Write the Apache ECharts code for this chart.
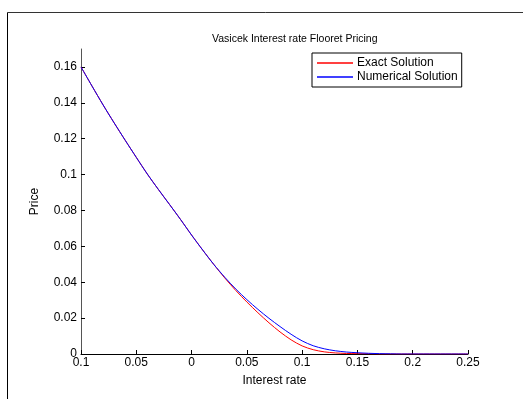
<!DOCTYPE html>
<html><head><meta charset="utf-8">
<script src="https://cdn.jsdelivr.net/npm/echarts@6/dist/echarts.min.js"></script>
<style>html,body{margin:0;padding:0;background:#fff}#c{width:523px;height:399px}</style>
</head><body><div id="c"></div>
<script>
const rates = [-0.10,-0.09,-0.08,-0.07,-0.06,-0.05,-0.04,-0.03,-0.02,-0.01,0.00,0.01,0.02,0.03,0.04,0.05,0.06,0.07,0.08,0.09,0.10,0.11,0.12,0.13,0.14,0.15,0.16,0.17,0.18,0.19,0.20,0.21,0.22,0.23,0.24,0.25];
const exactPrice = [0.1600,0.1493,0.1388,0.1288,0.1191,0.1096,0.1003,0.0917,0.0834,0.0750,0.0663,0.0580,0.0500,0.0424,0.0354,0.0290,0.0230,0.0174,0.0123,0.0079,0.0045,0.0024,0.0012,0.0006,0.0003,0.0002,0.0001,0,0,0,0,0,0,0,0,0];
const numericalPrice = [0.1600,0.1493,0.1388,0.1288,0.1191,0.1096,0.1003,0.0917,0.0834,0.0750,0.0663,0.0580,0.0500,0.0428,0.0362,0.0303,0.0249,0.0199,0.0153,0.0110,0.0073,0.0046,0.0029,0.0018,0.0011,0.0007,0.0004,0.0002,0.0001,0,0,0,0,0,0,0];
const xTicks = [-0.1,-0.05,0,0.05,0.1,0.15,0.2,0.25];
const yTicks = [0,0.02,0.04,0.06,0.08,0.1,0.12,0.14,0.16];
const seriesNames = ['Exact Solution','Numerical Solution'];
const titleText = 'Vasicek Interest rate Flooret Pricing';
const xName = 'Interest rate';
const yName = 'Price';

const font = 'Liberation Sans, Arial, sans-serif';
const chart = echarts.init(document.getElementById('c'));
chart.setOption({
  animation: false,
  backgroundColor: '#fff',
  title: {text: titleText, left: 207, top: 29,
    textStyle: {fontFamily: font, fontSize: 10.5, fontWeight: 'normal', color: '#000'}},
  legend: {orient: 'vertical', left: 312, top: 53, padding: [4, 4, 4, 5], itemGap: 2,
    itemWidth: 36, itemHeight: 1.5, icon: 'rect',
    borderColor: '#000', borderWidth: 1, backgroundColor: '#fff',
    textStyle: {fontFamily: font, fontSize: 12, color: '#000', padding: [0, 0, 0, -1]},
    data: seriesNames},
  grid: {left: 81, right: 55, top: 49, bottom: 45, containLabel: false},
  xAxis: {type: 'value', min: -0.1, max: 0.25, interval: 0.05,
    name: xName, nameLocation: 'middle', nameGap: 21,
    nameTextStyle: {fontFamily: font, fontSize: 12, color: '#000'},
    axisLine: {onZero: false, lineStyle: {color: '#000', width: 1}},
    axisTick: {inside: true, length: 4, lineStyle: {color: '#000'}, customValues: xTicks},
    axisLabel: {color: '#000', fontFamily: font, fontSize: 12, margin: 3,
      customValues: xTicks,
      formatter: v => String(Math.abs(Math.round(v * 100) / 100))},
    splitLine: {show: false}},
  yAxis: {type: 'value', min: 0, max: 0.17,
    name: yName, nameLocation: 'middle', nameGap: 40, nameRotate: 90,
    nameTextStyle: {fontFamily: font, fontSize: 12, color: '#000'},
    axisLine: {show: true, onZero: false, lineStyle: {color: '#555', width: 1}},
    axisTick: {show: true, inside: true, length: 4, lineStyle: {color: '#000'}, customValues: yTicks},
    axisLabel: {color: '#000', fontFamily: font, fontSize: 12, margin: 4,
      customValues: yTicks,
      formatter: v => String(Math.round(v * 100) / 100)},
    splitLine: {show: false}},
  series: [
    {name: seriesNames[0], type: 'line', showSymbol: false, smooth: 0.3, z: 2,
      color: '#ff0000', lineStyle: {color: '#ff0000', width: 1},
      data: rates.map((r, i) => [r, exactPrice[i]])},
    {name: seriesNames[1], type: 'line', showSymbol: false, smooth: 0.3, z: 3,
      color: '#0000ff', lineStyle: {color: '#0000ff', width: 1},
      data: rates.map((r, i) => [r, numericalPrice[i]])}
  ],
  graphic: [
    {type: 'line', shape: {x1: 7.5, y1: 12.5, x2: 523, y2: 12.5}, style: {stroke: '#333', lineWidth: 1}},
    {type: 'line', shape: {x1: 7.5, y1: 12.5, x2: 7.5, y2: 399}, style: {stroke: '#000', lineWidth: 1}}
  ]
});
</script></body></html>
